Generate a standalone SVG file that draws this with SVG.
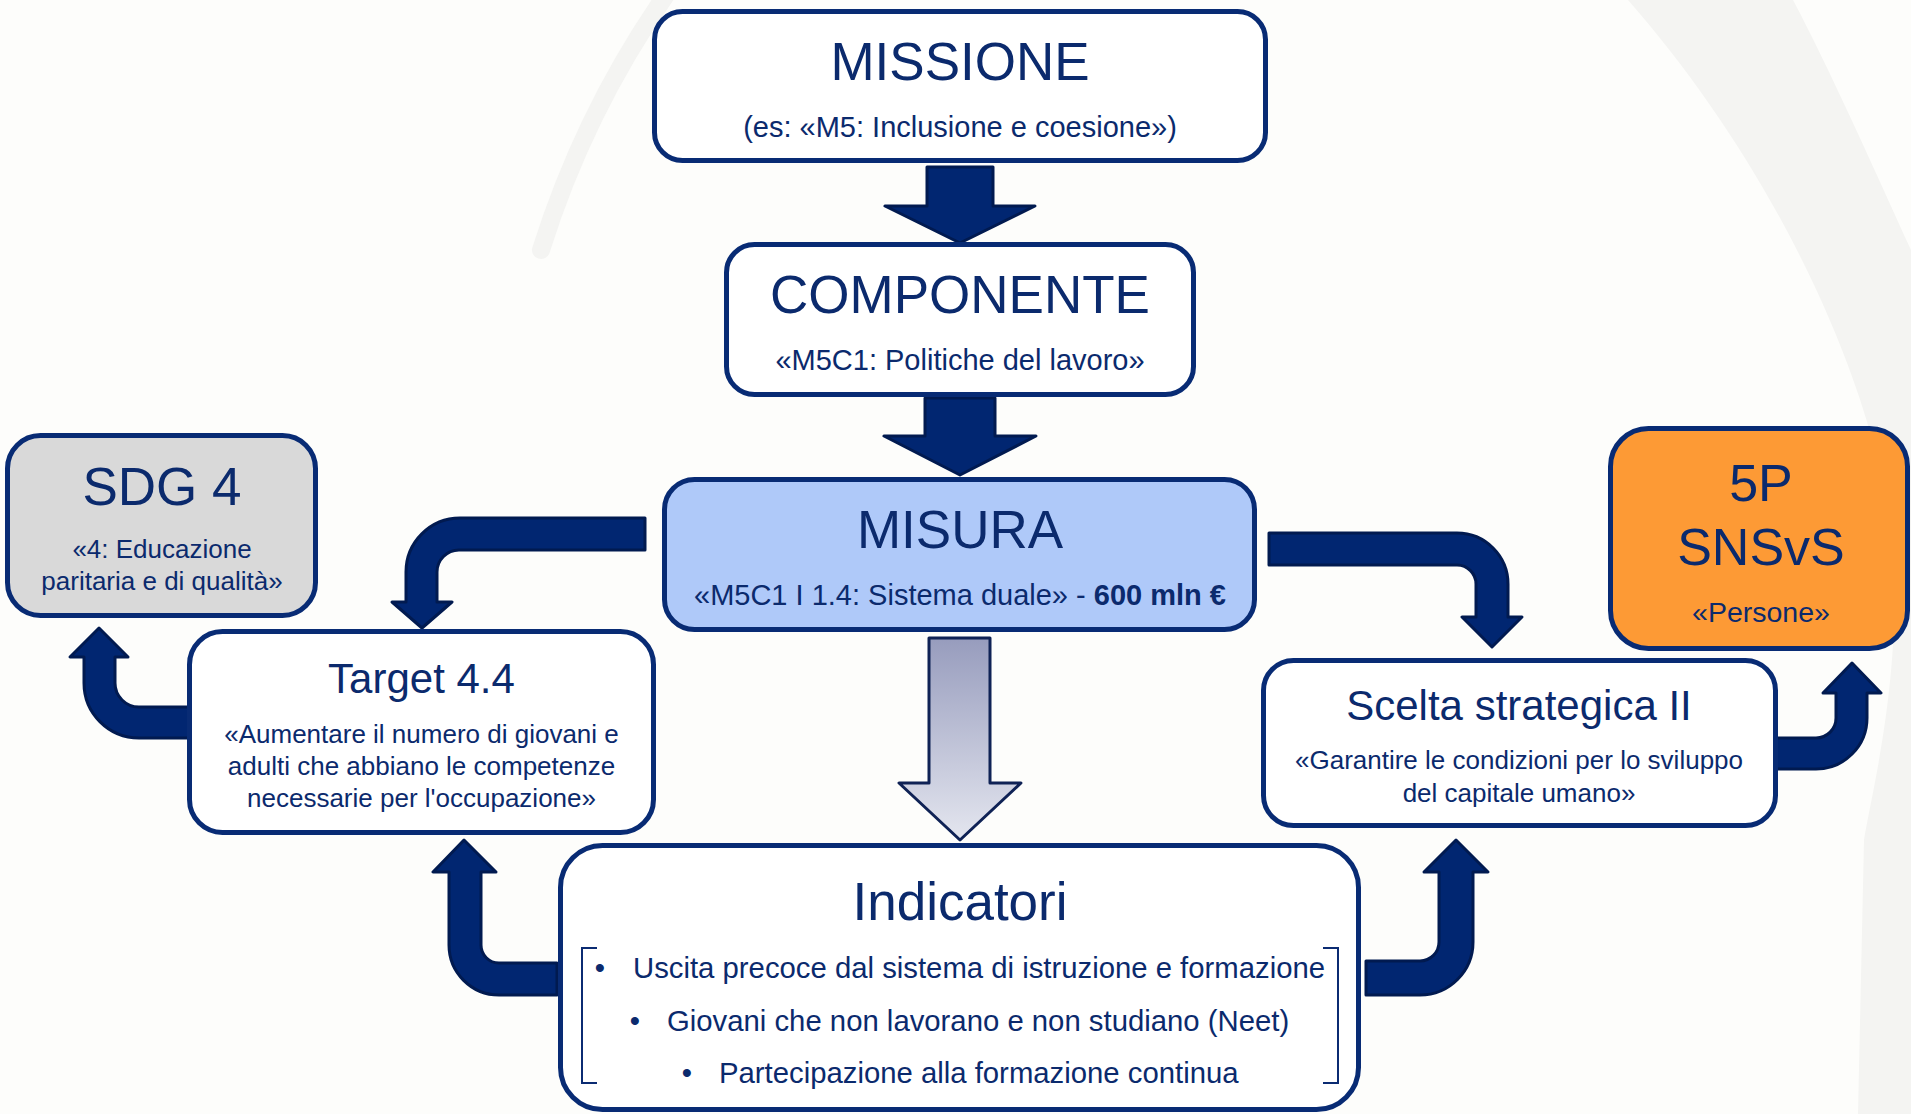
<svg xmlns="http://www.w3.org/2000/svg" width="1911" height="1114" viewBox="0 0 1911 1114">
<defs>
<linearGradient id="gg" x1="0" y1="0" x2="0" y2="1">
<stop offset="0" stop-color="#979cbd"/>
<stop offset="1" stop-color="#e4e6ef"/>
</linearGradient>
<style>
text{font-family:"Liberation Sans",Arial,sans-serif;fill:#0b2a6d;text-anchor:middle}
.box{stroke:#082b74;stroke-width:5}
.w{fill:#ffffff}
.t53{font-size:53px}
.t42{font-size:42px}
.s29{font-size:29px}
.s26{font-size:26px}
.b{font-size:29.3px}
.arr{fill:#012671;stroke:#011a50;stroke-width:3;stroke-linejoin:round}
.br{fill:none;stroke:#0b2b72;stroke-width:2}
</style>
</defs>
<rect x="0" y="0" width="1911" height="1114" fill="#fdfdfb"/>
<g id="background">
<path d="M541,250 Q585,110 668,-8" fill="none" stroke="#f4f4f2" stroke-width="18" stroke-linecap="round"/>
<path d="M1628,0 C1760,150 1870,360 1893,540 C1902,680 1872,790 1864,840 L1858,1114 L1911,1114 L1911,250 C1870,160 1830,70 1793,0 Z" fill="#f4f4f2"/>
</g>
<g id="connectors">
<path class="arr" d="M927,167 H993 V206 H1035 L960,243 L885,206 H927 Z"/>
<path class="arr" d="M925,398 H995 V436 H1036 L960,475 L884,436 H925 Z"/>
<path d="M929,638 H990 V783 H1021 L960,840 L899,783 H929 Z" fill="url(#gg)" stroke="#0f2255" stroke-width="3" stroke-linejoin="round"/>
<path class="arr" d="M645,518 L460,518 A54,54 0 0 0 406,572 L406,602 L392,602 L422,628 L452,602 L437,602 L437,572 A22,22 0 0 1 459,550 L645,550 Z"/>
<path class="arr" d="M1269,533 L1457,533 A51,51 0 0 1 1508,584 L1508,617 L1522,617 L1492,647 L1462,617 L1476,617 L1476,584 A19,19 0 0 0 1457,565 L1269,565 Z"/>
<path class="arr" d="M192,707 L139,707 A24,24 0 0 1 115,683 L115,657 L128,657 L99,628 L70,657 L84,657 L84,683 A55,55 0 0 0 139,738 L192,738 Z"/>
<path class="arr" d="M557,963 L499,963 A18,18 0 0 1 481,945 L481,872 L496,872 L464,840 L433,872 L449,872 L449,945 A50,50 0 0 0 499,995 L557,995 Z"/>
<path class="arr" d="M1366,961 L1420,961 A19,19 0 0 0 1439,942 L1439,872 L1424,872 L1456,840 L1488,872 L1473,872 L1473,942 A53,53 0 0 1 1420,995 L1366,995 Z"/>
<path class="arr" d="M1776,738 L1816,738 A20,20 0 0 0 1836,718 L1836,693 L1823,693 L1852,663 L1881,693 L1867,693 L1867,718 A51,51 0 0 1 1816,769 L1776,769 Z"/>
</g>
<g id="missione">
<rect class="box w" x="654.5" y="11.5" width="611" height="149" rx="28"/>
<text class="t53" x="960" y="80">MISSIONE</text>
<text class="s29" x="960" y="137">(es: «M5: Inclusione e coesione»)</text>
</g>
<g id="componente">
<rect class="box w" x="726.5" y="244.5" width="467" height="150" rx="28"/>
<text class="t53" x="960" y="313">COMPONENTE</text>
<text class="s29" x="960" y="370">«M5C1: Politiche del lavoro»</text>
</g>
<g id="misura">
<rect class="box" fill="#afc9f9" x="664.5" y="479.5" width="590" height="150" rx="30"/>
<text class="t53" x="960" y="548">MISURA</text>
<text class="s29" x="960" y="605">«M5C1 I 1.4: Sistema duale» - <tspan font-weight="bold">600 mln €</tspan></text>
</g>
<g id="sdg4">
<rect class="box" fill="#d9d9d9" x="7.5" y="435.5" width="308" height="180" rx="33"/>
<text class="t53" x="162" y="505">SDG 4</text>
<text class="s26" x="162" y="558">«4: Educazione</text>
<text class="s26" x="162" y="590">paritaria e di qualità»</text>
</g>
<g id="target44">
<rect class="box w" x="189.5" y="631.5" width="464" height="201" rx="33"/>
<text class="t42" x="421.5" y="693">Target 4.4</text>
<text class="s26" x="421.5" y="743">«Aumentare il numero di giovani e</text>
<text class="s26" x="421.5" y="775">adulti che abbiano le competenze</text>
<text class="s26" x="421.5" y="807">necessarie per l'occupazione»</text>
</g>
<g id="scelta">
<rect class="box w" x="1263.5" y="660.5" width="512" height="165" rx="30"/>
<text class="t42" x="1519" y="720">Scelta strategica II</text>
<text class="s26" x="1519" y="769">«Garantire le condizioni per lo sviluppo</text>
<text class="s26" x="1519" y="802">del capitale umano»</text>
</g>
<g id="snsvs">
<rect class="box" fill="#fd9a35" x="1610.5" y="428.5" width="297" height="220" rx="38"/>
<text font-size="52" x="1761" y="501">5P</text>
<text font-size="52" x="1761" y="565">SNSvS</text>
<text font-size="28.5" x="1761" y="622">«Persone»</text>
</g>
<g id="indicatori">
<rect class="box w" x="560.5" y="845.5" width="798" height="264" rx="42"/>
<text class="t53" x="960" y="920">Indicatori</text>
<path class="br" d="M597,948 H582 V1083 H597"/>
<path class="br" d="M1323,948 H1338 V1083 H1323"/>
<text class="b" x="600" y="978">•</text>
<text class="b" x="633" y="978" style="text-anchor:start">Uscita precoce dal sistema di istruzione e formazione</text>
<text class="b" x="635" y="1031">•</text>
<text class="b" x="667" y="1031" style="text-anchor:start">Giovani che non lavorano e non studiano (Neet)</text>
<text class="b" x="687" y="1083">•</text>
<text class="b" x="719" y="1083" style="text-anchor:start">Partecipazione alla formazione continua</text>
</g>
</svg>
